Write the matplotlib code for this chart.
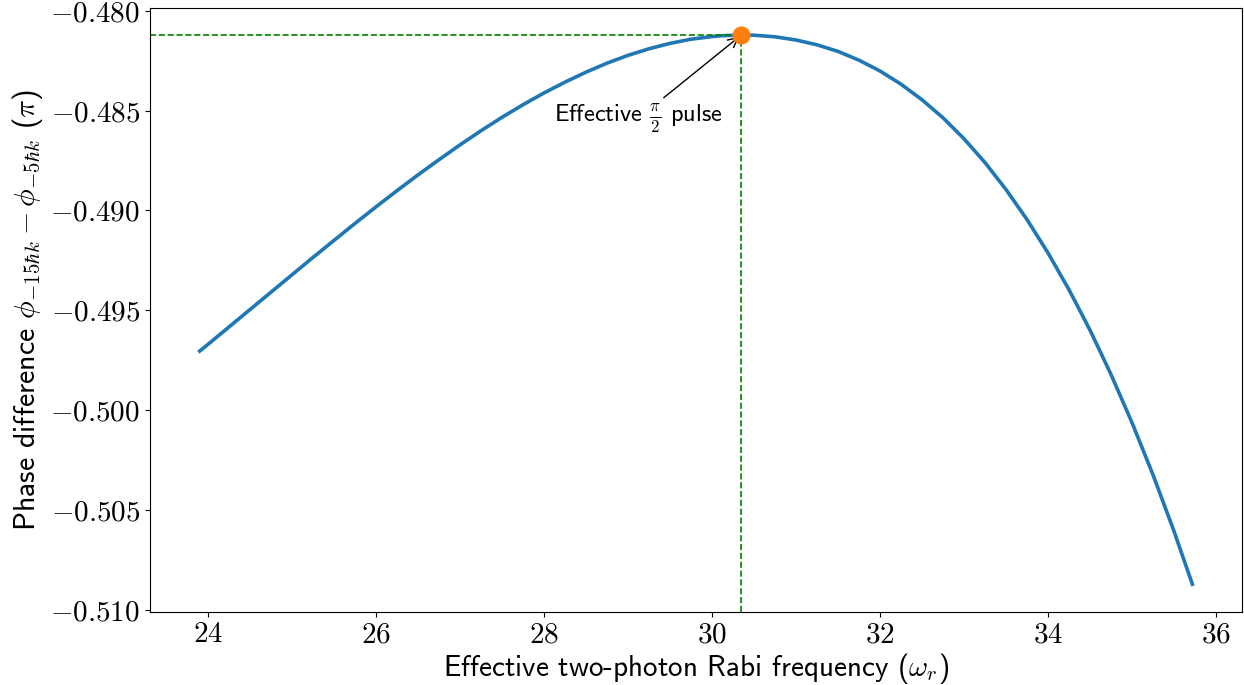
import matplotlib
matplotlib.use("Agg")
import numpy as np
import matplotlib.pyplot as plt
from matplotlib.ticker import FuncFormatter, MultipleLocator

plt.rcParams["mathtext.fontset"] = "cm"
plt.rcParams["font.family"] = ["cmss10", "DejaVu Sans"]
plt.rcParams["axes.unicode_minus"] = False

# effective two-photon Rabi frequency (omega_r)
rabi = [23.90, 24.00, 24.25, 24.50, 24.75, 25.00, 25.25, 25.50, 25.75,
        26.00, 26.25, 26.50, 26.75, 27.00, 27.25, 27.50, 27.75, 28.00,
        28.25, 28.50, 28.75, 29.00, 29.25, 29.50, 29.75, 30.00, 30.10,
        30.35, 30.50, 30.75, 31.00, 31.25, 31.50, 31.75, 32.00, 32.25,
        32.50, 32.75, 33.00, 33.25, 33.50, 33.75, 34.00, 34.25, 34.50,
        34.75, 35.00, 35.25, 35.50, 35.72]
# phase difference phi_-15hk - phi_-5hk (pi)
phase = [-0.49704, -0.49670, -0.49583, -0.49496, -0.49409, -0.49322,
         -0.49235, -0.49150, -0.49065, -0.48982, -0.48901, -0.48822,
         -0.48746, -0.48672, -0.48601, -0.48534, -0.48471, -0.48412,
         -0.48358, -0.48308, -0.48263, -0.48224, -0.48191, -0.48164,
         -0.48143, -0.48130, -0.48126, -0.48122, -0.48123, -0.48131,
         -0.48147, -0.48171, -0.48204, -0.48248, -0.48302, -0.48368,
         -0.48446, -0.48536, -0.48641, -0.48760, -0.48895, -0.49045,
         -0.49212, -0.49396, -0.49598, -0.49820, -0.50061, -0.50322,
         -0.50604, -0.50871]

rabi = np.array(rabi)
phase = np.array(phase)
ipk = int(np.argmax(phase))
x_pk, y_pk = rabi[ipk], phase[ipk]

fig = plt.figure(figsize=(12.44, 6.85), dpi=100)
ax = fig.add_axes([0.1206, 0.107, 0.8778, 0.882])

ax.plot(rabi, phase, color="tab:blue", lw=2.6)
xl, yl = ax.get_xlim(), ax.get_ylim()

ax.hlines(y_pk, xl[0], x_pk, colors="green", linestyles="--", lw=1.2)
ax.vlines(x_pk, yl[0], y_pk, colors="green", linestyles="--", lw=1.2)
ax.plot([x_pk], [y_pk], "o", color="tab:orange", ms=12, zorder=5)

ax.annotate(r"Effective $\frac{\pi}{2}$ pulse", xy=(x_pk, y_pk),
            xytext=(29.12, -0.48540), ha="center", va="center",
            fontsize=17.5,
            arrowprops=dict(arrowstyle="->", color="black", lw=1.0))

ax.set_xlim(xl)
ax.set_ylim(yl)

ax.xaxis.set_major_locator(MultipleLocator(2))
ax.yaxis.set_major_locator(MultipleLocator(0.005))
ax.xaxis.set_major_formatter(FuncFormatter(lambda v, p: r"$%d$" % round(v)))
ax.yaxis.set_major_formatter(FuncFormatter(lambda v, p: r"$%.3f$" % v))
ax.tick_params(labelsize=21)

ax.set_xlabel(r"Effective two-photon Rabi frequency ($\omega_r$)",
              fontsize=21, labelpad=2)
ax.set_ylabel(r"Phase difference $\phi_{-15\hbar k} - \phi_{-5\hbar k}$ ($\pi$)",
              fontsize=21.5, labelpad=4)

fig.savefig("out.png", dpi=100)
